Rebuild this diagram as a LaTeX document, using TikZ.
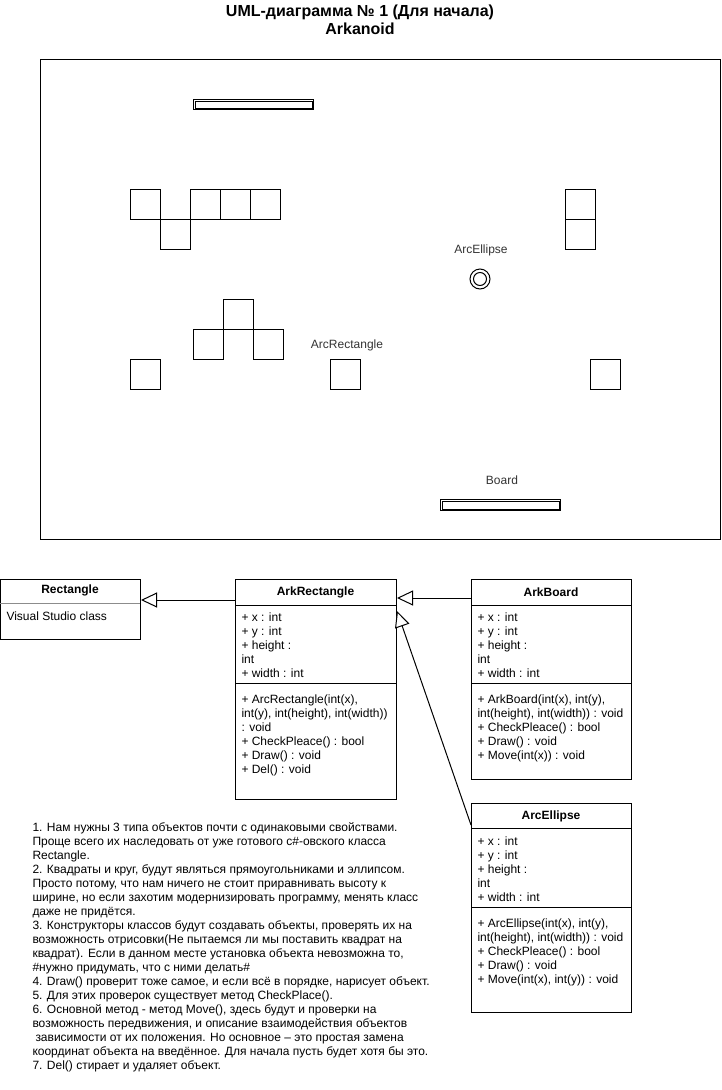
\documentclass[tikz,border=0pt]{standalone}
\usepackage{fontspec}
\setmainfont{Liberation Sans}
\usetikzlibrary{arrows.meta,calc}

\begin{document}
\begin{tikzpicture}[
  x=1pt, y=-1pt,
  line width=1pt,
  every node/.style={font=\fontsize{12}{14}\selectfont},
  brick/.style={draw,minimum size=30pt,inner sep=0pt,anchor=north west},
  cls/.style={draw,inner sep=0pt,anchor=north west},
  clsname/.style={font=\fontsize{12}{14}\selectfont\bfseries},
  members/.style={anchor=north west,align=left,inner sep=0pt},
  lbl/.style={text=black!80},
  inh/.style={-{Triangle[open,length=16pt,width=15pt,fill=white]}}
]
\useasboundingbox (0,0) rectangle (721,1090);

\node[font=\fontsize{16}{18}\selectfont\bfseries,align=center] (title) at (360,20)
  {UML-диаграмма № 1 (Для начала)\\Arkanoid};

% game field
\node[draw,minimum width=680pt,minimum height=480pt,inner sep=0pt,anchor=north west] (field) at (40,59) {};
\node[draw,minimum width=120pt,minimum height=10pt,inner sep=0pt,anchor=north west] (topPaddle) at (193,99) {};
\draw ($(topPaddle.north west)+(2,2)$) rectangle ($(topPaddle.south east)+(-2,-2)$);
\node[draw,minimum width=120pt,minimum height=11pt,inner sep=0pt,anchor=north west] (board) at (440,499) {};
\draw ($(board.north west)+(2,2)$) rectangle ($(board.south east)+(-2,-2)$);
\foreach \bx/\by [count=\i] in {130/189,190/189,220/189,250/189,160/219,565/189,565/219,
    223/299,193/329,253/329,130/359,330/359,590/359} {
  \node[brick] (brick\i) at (\bx,\by) {};
}
\node[draw,circle,minimum size=20pt,inner sep=0pt] (ball) at (480,279) {};
\draw (ball.center) circle (6.5);
\node[lbl] (ballLbl) at (481,250) {ArcEllipse};
\node[lbl] (brickLbl) at (347,345) {ArcRectangle};
\node[lbl] (boardLbl) at (502,480) {Board};

% classes
\node[cls,minimum width=140pt,minimum height=60pt] (rectangle) at (0,579) {};
\draw[black!45] (0,603) -- (140,603);
\node[clsname] at (70,590) {Rectangle};
\node[members] at (6,611) {Visual Studio class};

\node[cls,minimum width=161pt,minimum height=220pt] (arkrect) at (235,579) {};
\draw (235,605) -- (396,605) (235,683) -- (396,683);
\node[clsname] at (315.5,592) {ArkRectangle};
\node[members] at (241,612) {+ x : int\\+ y : int\\+ height :\\int\\+ width : int};
\node[members] at (241,694) {+ ArcRectangle(int(x),\\int(y), int(height), int(width))\\: void\\
  + CheckPleace() : bool\\+ Draw() : void\\+ Del() : void};

\node[cls,minimum width=160pt,minimum height=200pt] (arkboard) at (471,579) {};
\draw (471,605) -- (631,605) (471,683) -- (631,683);
\node[clsname] at (551,592) {ArkBoard};
\node[members] at (477,612) {+ x : int\\+ y : int\\+ height :\\int\\+ width : int};
\node[members] at (477,694) {+ ArkBoard(int(x), int(y),\\int(height), int(width)) : void\\
  + CheckPleace() : bool\\+ Draw() : void\\+ Move(int(x)) : void};

\node[cls,minimum width=160pt,minimum height=209pt] (arcellipse) at (471,803) {};
\draw (471,828) -- (631,828) (471,907) -- (631,907);
\node[clsname] at (551,816) {ArcEllipse};
\node[members] at (477,836) {+ x : int\\+ y : int\\+ height :\\int\\+ width : int};
\node[members] at (477,918) {+ ArcEllipse(int(x), int(y),\\int(height), int(width)) : void\\
  + CheckPleace() : bool\\+ Draw() : void\\+ Move(int(x), int(y)) : void};

% inheritance
\draw[inh] ($(arkrect.north west)+(0,21)$) -- ($(rectangle.north east)+(0,21)$);
\draw[inh] ($(arkboard.north west)+(0,19)$) -- ($(arkrect.north east)+(0,19)$);
\draw[inh] ($(arcellipse.north west)+(0,22)$) -- ($(arkrect.north east)+(0,32)$);

% notes
\node[members] (notes) at (32,822) {%
1. Нам нужны 3 типа объектов почти с одинаковыми свойствами.\\
Проще всего их наследовать от уже готового c\#-овского класса\\
Rectangle.\\
2. Квадраты и круг, будут являться прямоугольниками и эллипсом.\\
Просто потому, что нам ничего не стоит приравнивать высоту к\\
ширине, но если захотим модернизировать программу, менять класс\\
даже не придётся.\\
3. Конструкторы классов будут создавать объекты, проверять их на\\
возможность отрисовки(Не пытаемся ли мы поставить квадрат на\\
квадрат). Если в данном месте установка объекта невозможна то,\\
\#нужно придумать, что с ними делать\#\\
4. Draw() проверит тоже самое, и если всё в порядке, нарисует объект.\\
5. Для этих проверок существует метод CheckPlace().\\
6. Основной метод - метод Move(), здесь будут и проверки на\\
возможность передвижения, и описание взаимодействия объектов\\
\hspace{3pt}зависимости от их положения. Но основное – это простая замена\\
координат объекта на введённое. Для начала пусть будет хотя бы это.\\
7. Del() стирает и удаляет объект.};
\end{tikzpicture}
\end{document}
